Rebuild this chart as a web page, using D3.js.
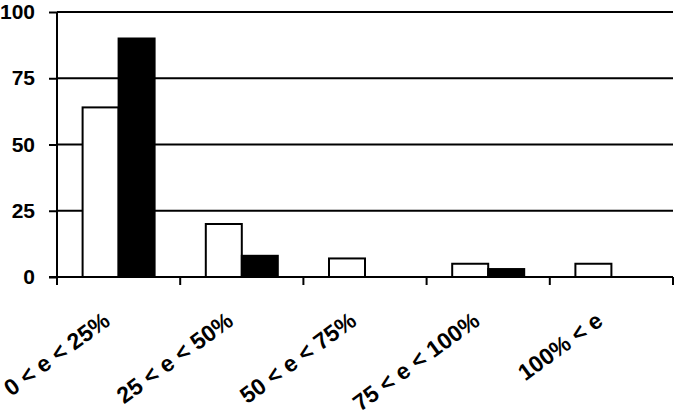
<!DOCTYPE html>
<html>
<head>
<meta charset="utf-8">
<script src="https://cdn.jsdelivr.net/npm/d3@7"></script>
<style>
  body { margin: 0; background: #fff; }
  text { font-family: "Liberation Sans", Arial, sans-serif; font-weight: bold; fill: #000; }
</style>
</head>
<body>
<script>
// categories and the two series (white / black bars)
var categories = ['0 < e < 25%', '25 < e < 50%', '50 < e < 75%', '75 < e < 100%', '100% < e']
var whiteValues = [64, 20, 7, 5, 5]
var blackValues = [90, 8, 0, 3, 0]
var yTicks = [0, 25, 50, 75, 100]

var width = 682, height = 417
var mLeft = 57, mRight = 673, mTop = 12, mBottom = 277

var svg = d3.select('body').append('svg')
  .attr('width', width)
  .attr('height', height)

var x = d3.scaleBand().domain(categories).range([mLeft, mRight]).padding(0)
var y = d3.scaleLinear().domain([0, 100]).range([mBottom, mTop])
var barW = 36
var inner = d3.scaleBand().domain(['w', 'b']).range([0, barW * 2])

// gridlines
svg.append('g')
  .selectAll('line')
  .data(yTicks.filter(d => d > 0))
  .enter().append('line')
    .attr('x1', mLeft).attr('x2', mRight)
    .attr('y1', d => y(d)).attr('y2', d => y(d))
    .attr('stroke', '#000').attr('stroke-width', 2)

// bars
var rows = categories.map((c, i) => ({ c: c, w: whiteValues[i], b: blackValues[i] }))
var groups = svg.append('g')
  .selectAll('g')
  .data(rows)
  .enter().append('g')
    .attr('transform', d => `translate(${x(d.c) + x.bandwidth() / 2 - barW},0)`)

groups.selectAll('rect')
  .data(d => [{ k: 'w', v: d.w }, { k: 'b', v: d.b }].filter(e => e.v > 0))
  .enter().append('rect')
    .attr('x', d => inner(d.k))
    .attr('width', inner.bandwidth())
    .attr('y', d => y(d.v))
    .attr('height', d => y(0) - y(d.v))
    .attr('fill', d => d.k === 'w' ? '#fff' : '#000')
    .attr('stroke', '#000')
    .attr('stroke-width', 2)

// y axis
var yAxis = d3.axisLeft(y).tickValues(yTicks).tickSize(8).tickPadding(4)
var gy = svg.append('g')
  .attr('transform', `translate(${mLeft},0)`)
  .call(yAxis)
gy.select('.domain').attr('d', `M0,${mTop}V${mBottom + 8}`).attr('stroke', '#000').attr('stroke-width', 2)
gy.selectAll('.tick line').attr('stroke', '#000').attr('stroke-width', 2)
gy.selectAll('.tick text').style('font-size', '21px').attr('x', -22)

// x axis
var xTickPos = categories.map(c => x(c)).concat([mRight])
svg.append('line')
  .attr('x1', mLeft - 8).attr('x2', mRight)
  .attr('y1', mBottom).attr('y2', mBottom)
  .attr('stroke', '#000').attr('stroke-width', 2)
svg.append('g')
  .selectAll('line')
  .data(xTickPos)
  .enter().append('line')
    .attr('x1', d => d).attr('x2', d => d)
    .attr('y1', mBottom).attr('y2', mBottom + 8)
    .attr('stroke', '#000').attr('stroke-width', 2)

svg.append('g')
  .selectAll('text')
  .data(categories)
  .enter().append('text')
    .attr('transform', d => `translate(${x(d) + x.bandwidth() / 2 - 7},324) rotate(-36)`)
    .attr('text-anchor', 'end')
    .style('font-size', '23px')
    .text(d => d)
</script>
</body>
</html>
